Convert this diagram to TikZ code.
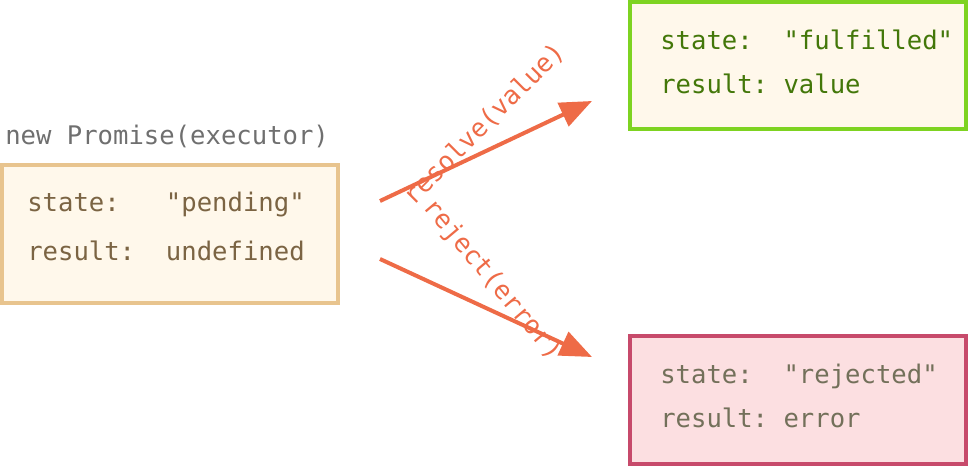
\documentclass[tikz,border=0pt]{standalone}
\usepackage{fontspec}
\setmonofont{DejaVu Sans Mono}
\usepackage{tikz}
\usetikzlibrary{arrows.meta}
\definecolor{pendfill}{HTML}{FFF8EB}
\definecolor{penddraw}{HTML}{E8C48E}
\definecolor{pendtext}{HTML}{7B6443}
\definecolor{fulldraw}{HTML}{7ED321}
\definecolor{fulltext}{HTML}{437709}
\definecolor{rejfill}{HTML}{FCDFE1}
\definecolor{rejdraw}{HTML}{C74A6B}
\definecolor{rejtext}{HTML}{73705A}
\definecolor{arrowc}{HTML}{EE6B47}
\definecolor{headc}{HTML}{6F6F6F}
\newcommand\codeSize{\fontsize{19.2pt}{23pt}\selectfont\ttfamily}

\begin{document}
\begin{tikzpicture}[x=0.75pt, y=-0.75pt,
    box/.style={draw, line width=3pt, inner sep=0pt},
    line/.style={anchor=base west, inner sep=0pt, font=\codeSize},
    move/.style={arrowc, line width=3pt, -{Triangle[length=24pt, width=19pt]}},
    movelabel/.style={arrowc, inner sep=0pt, font=\codeSize}
]
            \useasboundingbox (0, 0) rectangle (968, 466);
            % the three states
            \draw[box, penddraw, fill=pendfill] (2, 165) rectangle (338, 303);
            \draw[box, fulldraw, fill=pendfill] (630, 2) rectangle (966, 129);
            \draw[box, rejdraw, fill=rejfill]   (630, 336) rectangle (966, 464);
            \node[line, headc] (head) at (5, 145) {new Promise(executor)};
            \node[line, pendtext] (pstate)  at (27, 212) {state:\ \ \ "pending"};
            \node[line, pendtext] (presult) at (27, 261) {result:\ \ undefined};
            \node[line, fulltext] (fstate)  at (660, 50) {state:\ \ "fulfilled"};
            \node[line, fulltext] (fresult) at (660, 94) {result:\ value};
            \node[line, rejtext]  (rstate)  at (660, 384) {state:\ \ "rejected"};
            \node[line, rejtext]  (rresult) at (660, 428) {result:\ error};
            % transitions
            \coordinate (res0) at (380, 201);
            \coordinate (res1) at (592, 101);
            \coordinate (rej0) at (380, 259);
            \coordinate (rej1) at (592, 357);
            \draw[move] (res0) -- (res1);
            \draw[move] (rej0) -- (rej1);
            \node[movelabel, rotate=45]  (reslabel) at (484, 124) {resolve(value)};
            \node[movelabel, rotate=-50] (rejlabel) at (492, 280) {reject(error)};
\end{tikzpicture}
\end{document}
